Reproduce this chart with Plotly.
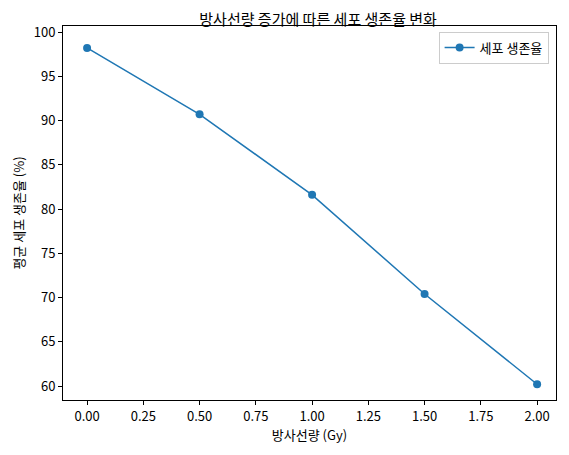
import plotly.graph_objects as go

doses = [0.0, 0.5, 1.0, 1.5, 2.0]
survival = [98.2, 90.7, 81.6, 70.4, 60.2]
x_ticks = [0.0, 0.25, 0.5, 0.75, 1.0, 1.25, 1.5, 1.75, 2.0]
x_labels = ["0.00", "0.25", "0.50", "0.75", "1.00", "1.25", "1.50", "1.75", "2.00"]
y_ticks = [60, 65, 70, 75, 80, 85, 90, 95, 100]

font = "Noto Sans CJK KR"

fig = go.Figure()
fig.add_trace(go.Scatter(
    x=doses, y=survival, mode="lines+markers", name="세포 생존율",
    line=dict(color="#1f77b4", width=1.5),
    marker=dict(color="#1f77b4", size=8),
))

axis = dict(showgrid=False, zeroline=False, showline=True, linecolor="black", linewidth=1,
            mirror=True, ticks="outside", ticklen=4, tickcolor="black",
            tickfont=dict(size=13, color="black"), automargin=False)

fig.update_layout(
    width=569, height=455,
    paper_bgcolor="white", plot_bgcolor="white",
    font=dict(family=font, color="black"),
    margin=dict(l=55, r=21, t=18, b=63),
    title=dict(text="방사선량 증가에 따른 세포 생존율 변화", x=0.545, xanchor="center",
               y=0.985, yanchor="top", font=dict(size=15)),
    xaxis=dict(axis, range=[-0.107, 2.084], tickvals=x_ticks, ticktext=x_labels,
               title=dict(text="방사선량 (Gy)", font=dict(size=13), standoff=6)),
    yaxis=dict(axis, range=[58.42, 100.68], tickvals=y_ticks,
               title=dict(text="평균 세포 생존율 (%)", font=dict(size=13), standoff=6)),
    showlegend=True,
    legend=dict(x=0.985, y=0.985, xanchor="right", yanchor="top",
                bordercolor="#cccccc", borderwidth=1, bgcolor="white",
                font=dict(size=13)),
)

fig.write_html("out.html")
